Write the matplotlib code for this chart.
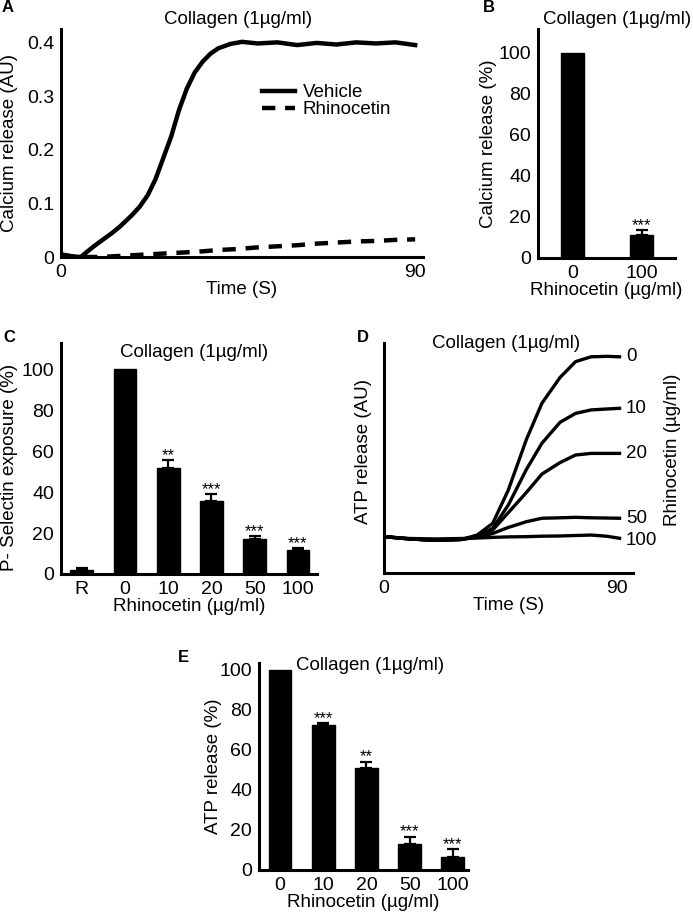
import matplotlib
matplotlib.use("Agg")
import matplotlib.pyplot as plt
import numpy as np

plt.rcParams["font.family"] = ["Liberation Sans", "DejaVu Sans"]
plt.rcParams["font.size"] = 13.5
plt.rcParams["axes.linewidth"] = 2.2

# ---- Panel A: calcium release traces
time_a = [0, 3, 5, 8, 10, 13, 15, 18, 20, 22, 24, 26, 28, 30, 32, 34, 36, 38, 40,
          43, 46, 50, 55, 60, 65, 70, 75, 80, 85, 90]
vehicle_a = [0.005, 0.001, 0.0, 0.018, 0.029, 0.045, 0.057, 0.078, 0.094, 0.115,
             0.145, 0.185, 0.225, 0.275, 0.315, 0.345, 0.365, 0.38, 0.39,
             0.398, 0.402, 0.399, 0.401, 0.396, 0.400, 0.397, 0.401, 0.399, 0.401, 0.396]
time_a2 = [0, 5, 10, 15, 20, 25, 30, 35, 40, 45, 50, 55, 60, 65, 70, 75, 80, 85, 90]
rhino_a = [0.003, 0.0, 0.0, 0.002, 0.004, 0.006, 0.008, 0.010, 0.013, 0.015, 0.018,
           0.020, 0.022, 0.025, 0.027, 0.029, 0.030, 0.032, 0.033]

# ---- Panel B: calcium release (%)
doses_b = ["0", "100"]
calcium_b = [100, 11]
calcium_err_b = [0, 2.7]
stars_b = ["", "***"]

# ---- Panel C: P-selectin exposure (%)
doses_c = ["R", "0", "10", "20", "50", "100"]
psel_c = [1.8, 100, 51.6, 35.8, 16.9, 11.7]
psel_err_c = [1.0, 0, 4.0, 3.0, 1.6, 0.9]
stars_c = ["", "", "**", "***", "***", "***"]

# ---- Panel D: ATP release traces (AU)
time_d = [0, 10, 20, 30, 36, 42, 48, 55, 61, 68, 74, 80, 86, 91]
atp_d = {
    "0":   [0.158, 0.148, 0.142, 0.146, 0.165, 0.216, 0.36, 0.58, 0.738, 0.85, 0.919, 0.94, 0.942, 0.94],
    "10":  [0.158, 0.148, 0.142, 0.146, 0.160, 0.194, 0.295, 0.45, 0.564, 0.655, 0.694, 0.709, 0.713, 0.716],
    "20":  [0.158, 0.148, 0.142, 0.146, 0.158, 0.187, 0.262, 0.35, 0.43, 0.48, 0.513, 0.52, 0.52, 0.52],
    "50":  [0.158, 0.148, 0.142, 0.146, 0.155, 0.172, 0.198, 0.223, 0.238, 0.24, 0.242, 0.24, 0.239, 0.238],
    "100": [0.158, 0.150, 0.148, 0.150, 0.152, 0.155, 0.157, 0.158, 0.160, 0.161, 0.163, 0.165, 0.160, 0.151],
}

# ---- Panel E: ATP release (%)
doses_e = ["0", "10", "20", "50", "100"]
atp_e = [100, 72.5, 51.2, 13.0, 6.7]
atp_err_e = [0, 0.8, 3.0, 3.7, 3.6]
stars_e = ["", "***", "**", "***", "***"]

TITLE = "Collagen (1µg/ml)"
W, H = 693, 916


def px_axes(fig, left, top, right, bottom):
    """Add axes using pixel coordinates (origin top-left)."""
    ax = fig.add_axes([left / W, 1 - bottom / H, (right - left) / W, (bottom - top) / H])
    for s in ("top", "right"):
        ax.spines[s].set_visible(False)
    ax.tick_params(length=0, pad=5, labelsize=14)
    return ax


def bar_panel(ax, labels, values, errs, stars, width, ylim, xlim):
    x = np.arange(len(labels))
    ax.bar(x, values, width=width, color="black", edgecolor="black")
    # only the bars that carry an SEM get an error bar (controls are 100%)
    has_err = np.array(errs) > 0
    xe = x[has_err]
    ve = np.array(values)[has_err]
    ee = np.array(errs)[has_err]
    ax.errorbar(xe, ve, yerr=[np.zeros(len(ee)), ee], fmt="none", ecolor="black",
                elinewidth=1.6, capsize=4, capthick=1.6)
    for xi, v, e, s in zip(x, values, errs, stars):
        if s:
            ax.annotate(s, (xi, v + e), xytext=(0, -2), textcoords="offset points",
                        ha="center", va="bottom", fontsize=12)
    ax.set_xticks(x)
    ax.set_xticklabels(labels)
    ax.set_ylim(*ylim)
    ax.set_xlim(*xlim)
    ax.set_yticks([0, 20, 40, 60, 80, 100])


fig = plt.figure(figsize=(W / 100, H / 100), dpi=100)

# Panel A
axA = px_axes(fig, 61, 29, 423, 257)
axA.plot(time_a, vehicle_a, color="black", lw=3.2, label="Vehicle")
axA.plot(time_a2, rhino_a, color="black", lw=3.2, dashes=(3, 2.2), label="Rhinocetin")
axA.set_xlim(0, 92)
axA.set_ylim(0, 0.426)
axA.set_xticks([0, 90])
axA.set_yticks([0, 0.1, 0.2, 0.3, 0.4])
axA.set_yticklabels(["0", "0.1", "0.2", "0.3", "0.4"])
axA.set_xlabel("Time (S)", labelpad=0)
axA.set_ylabel("Calcium release (AU)")
axA.yaxis.set_label_coords(-0.119, 0.5)
axA.text(0.49, 1.04, TITLE, transform=axA.transAxes, ha="center", va="center")
axA.legend(loc="upper left", bbox_to_anchor=(0.53, 0.8), frameon=False,
           handlelength=1.75, handletextpad=0.4, labelspacing=0.0, borderpad=0)

# Panel B
axB = px_axes(fig, 538, 29, 675, 258)
bar_panel(axB, doses_b, calcium_b, calcium_err_b, stars_b, 0.333, (0, 111.5), (-0.5, 1.485))
axB.set_xlabel("Rhinocetin (µg/ml)", labelpad=0)
axB.set_ylabel("Calcium release (%)")
axB.yaxis.set_label_coords(-0.30, 0.5)
axB.text(0.58, 1.04, TITLE, transform=axB.transAxes, ha="center", va="center")

# Panel C
axC = px_axes(fig, 61, 343, 317, 574)
bar_panel(axC, doses_c, psel_c, psel_err_c, stars_c, 0.53, (0, 112.7), (-0.48, 5.44))
axC.set_xlabel("Rhinocetin (µg/ml)", labelpad=0)
axC.set_ylabel("P- Selectin exposure (%)")
axC.yaxis.set_label_coords(-0.168, 0.46)
axC.text(0.52, 0.96, TITLE, transform=axC.transAxes, ha="center", va="center")

# Panel D
axD = px_axes(fig, 384, 343, 633, 573)
for dose, vals in atp_d.items():
    axD.plot(time_d, vals, color="black", lw=2.4)
    off = -0.01 if dose == "100" else 0
    axD.text(93.5, vals[-1] + off, dose, ha="left", va="center", clip_on=False)
axD.set_xlim(0, 96.2)
axD.set_ylim(0, 1)
axD.set_xticks([0, 90])
axD.set_yticks([])
axD.set_xlabel("Time (S)", labelpad=0)
axD.set_ylabel("ATP release (AU)")
axD.yaxis.set_label_coords(-0.048, 0.528)
axD.text(0.49, 1.0, TITLE, transform=axD.transAxes, ha="center", va="center")
axD.text(1.16, 0.535, "Rhinocetin (µg/ml)", transform=axD.transAxes,
         rotation=90, ha="center", va="center")

# Panel E
axE = px_axes(fig, 259, 663, 468, 870)
bar_panel(axE, doses_e, atp_e, atp_err_e, stars_e, 0.53, (0, 103.5), (-0.485, 4.35))
axE.set_xlabel("Rhinocetin (µg/ml)", labelpad=0)
axE.set_ylabel("ATP release (%)")
axE.yaxis.set_label_coords(-0.177, 0.5)
axE.text(0.53, 0.99, TITLE, transform=axE.transAxes, ha="center", va="center")

# Panel letters
for letter, (lx, ly) in {"A": (2, 8), "B": (483, 8), "C": (3, 337),
                         "D": (357, 337), "E": (178, 657)}.items():
    fig.text(lx / W, 1 - ly / H, letter, fontsize=12, fontweight="bold",
             ha="left", va="center")

fig.savefig("out.png", dpi=100)
